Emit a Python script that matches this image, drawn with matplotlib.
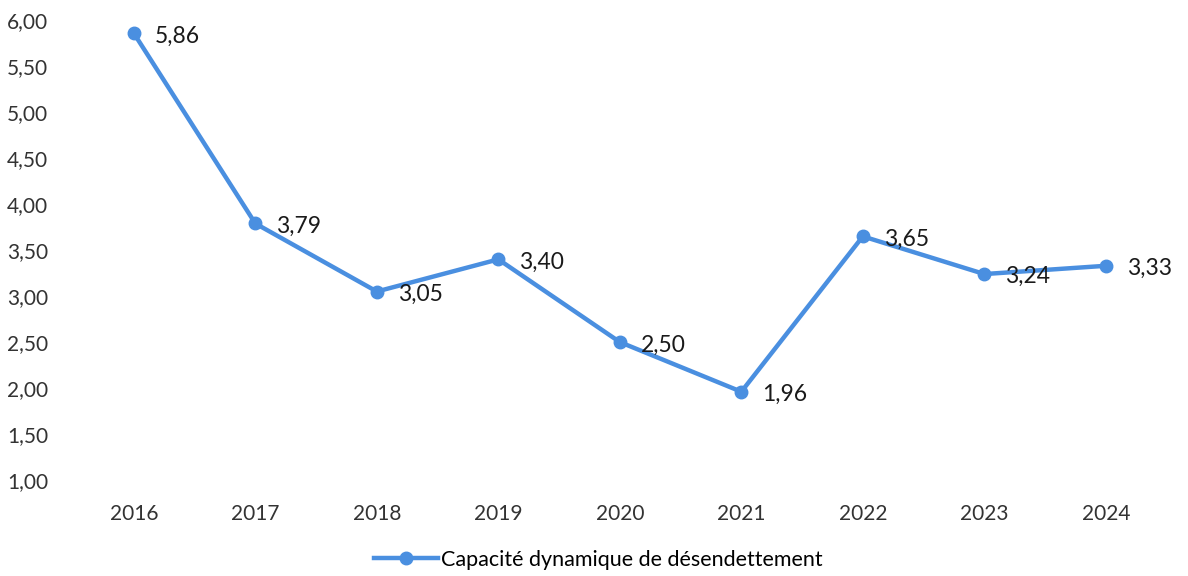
import matplotlib.pyplot as plt

years = ["2016", "2017", "2018", "2019", "2020", "2021", "2022", "2023", "2024"]
values = [5.86, 3.79, 3.05, 3.40, 2.50, 1.96, 3.65, 3.24, 3.33]
yticks = [1.0, 1.5, 2.0, 2.5, 3.0, 3.5, 4.0, 4.5, 5.0, 5.5, 6.0]
series_name = "Capacité dynamique de désendettement"

plt.rcParams['font.family'] = ['Lato', 'DejaVu Sans']
color = '#4A8FE0'

fig = plt.figure(figsize=(11.88, 5.76), dpi=100)
ax = fig.add_axes([0.0615, 0.1667, 0.9205, 0.798])

x = list(range(len(years)))
ax.plot(x, values, color=color, lw=3.2, marker='o', ms=9, label=series_name)

# étiquettes de données
for xi, v in zip(x, values):
    ax.annotate(f"{v:.2f}".replace('.', ','), (xi, v), xytext=(15, -2),
                textcoords='offset points', ha='left', va='center',
                fontsize=16.5, color='#1a1a1a')

ax.set_xlim(-0.5, len(years) - 0.5)
ax.set_ylim(1, 6)
ax.set_xticks(x)
ax.set_xticklabels(years)
ax.set_yticks(yticks)
ax.set_yticklabels([f"{t:.2f}".replace('.', ',') for t in yticks])
ax.tick_params(length=0, labelsize=15, colors='#333333')
ax.tick_params(axis='x', pad=17)
ax.tick_params(axis='y', pad=18)
for s in ax.spines.values():
    s.set_visible(False)

ax.legend(loc='upper center', bbox_to_anchor=(0.48, -0.11), frameon=False,
          fontsize=15.5, handlelength=3, handletextpad=0.1)

fig.savefig("out.png", dpi=100)
